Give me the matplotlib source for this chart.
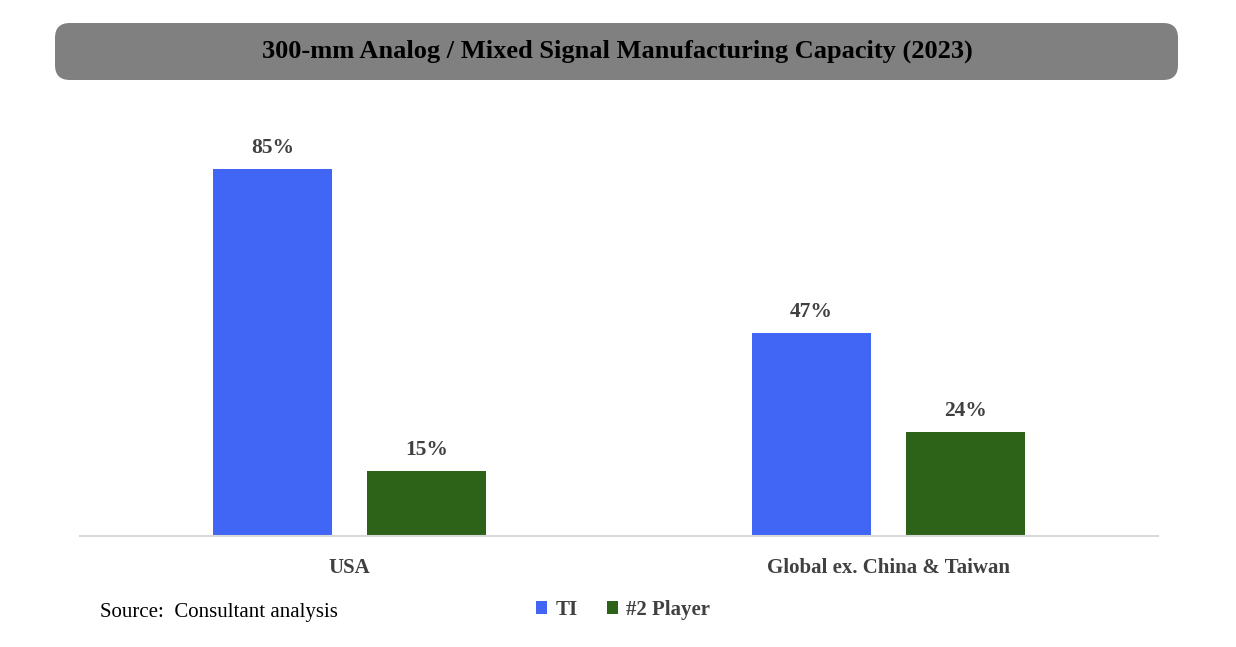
import numpy as np
import matplotlib.pyplot as plt
from matplotlib.patches import FancyBboxPatch, Patch

plt.rcParams['font.family'] = ['Liberation Serif', 'DejaVu Serif']

categories = ['USA', 'Global ex. China & Taiwan']
ti_share = [85, 47]
player2_share = [15, 24]
series_names = ['TI', '#2 Player']

blue = '#4166F5'
green = '#2D6319'
label_gray = '#404040'

fig = plt.figure(figsize=(12.36, 6.47), dpi=100)

# title banner
banner = FancyBboxPatch((55 / 1236, 1 - 80 / 647), (1178 - 55) / 1236, 57 / 647,
                        boxstyle='round,pad=0,rounding_size=0.012',
                        transform=fig.transFigure, facecolor='#808080',
                        edgecolor='none', mutation_aspect=1236 / 647)
fig.patches.append(banner)
fig.text(617 / 1236, 1 - 51 / 647,
         '300-mm Analog / Mixed Signal Manufacturing Capacity (2023)',
         ha='center', va='center', fontsize=19, fontweight='bold', color='black')

ax = fig.add_axes([80 / 1236, 111 / 647, 1078 / 1236, 388.6 / 647])
x = np.arange(len(categories))
w = 0.221
off = 0.143
b1 = ax.bar(x - off, ti_share, w, color=blue, label=series_names[0])
b2 = ax.bar(x + off, player2_share, w, color=green, label=series_names[1])

for bars in (b1, b2):
    for rect in bars:
        ax.annotate(f'{rect.get_height():.0f}%',
                    (rect.get_x() + rect.get_width() / 2, rect.get_height()),
                    xytext=(0, 8), textcoords='offset points',
                    ha='center', va='bottom', fontsize=15.5, fontweight='bold',
                    color=label_gray)

ax.set_xlim(-0.5, 1.5)
ax.set_ylim(0, 90)
ax.set_yticks([])
ax.set_xticks(x)
ax.set_xticklabels(categories, fontsize=15, fontweight='bold', color=label_gray)
ax.tick_params(axis='x', length=0, pad=16)
for side in ('top', 'right', 'left'):
    ax.spines[side].set_visible(False)
ax.spines['bottom'].set_color('#D9D9D9')
ax.spines['bottom'].set_linewidth(1.5)

fig.text(100 / 1236, 1 - 612 / 647, 'Source:  Consultant analysis',
         ha='left', va='center', fontsize=15, color='black')

handles = [Patch(facecolor=blue), Patch(facecolor=green)]
leg = fig.legend(handles, series_names, loc='center', bbox_to_anchor=(623 / 1236, 1 - 610 / 647),
                 ncol=2, frameon=False, handlelength=0.55, handleheight=0.55,
                 handletextpad=0.4, columnspacing=1.4,
                 prop={'size': 15, 'weight': 'bold'})
for t in leg.get_texts():
    t.set_color(label_gray)

fig.savefig('out.png', dpi=100)
